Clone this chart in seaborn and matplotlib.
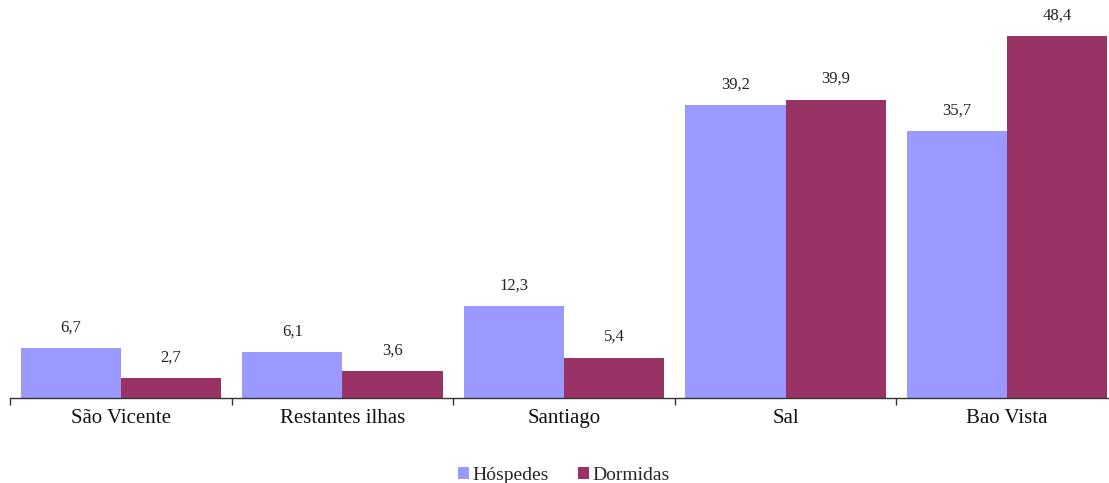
import matplotlib
matplotlib.use("Agg")
import matplotlib.pyplot as plt
from matplotlib.ticker import FixedLocator
import seaborn as sns
import pandas as pd

categories = ["São Vicente", "Restantes ilhas", "Santiago", "Sal", "Bao Vista"]
hospedes = [6.7, 6.1, 12.3, 39.2, 35.7]
dormidas = [2.7, 3.6, 5.4, 39.9, 48.4]
series = ["Hóspedes", "Dormidas"]
colors = ["#9999FF", "#993366"]

df = pd.DataFrame({
    "ilha": categories * 2,
    "serie": [series[0]] * len(categories) + [series[1]] * len(categories),
    "valor": hospedes + dormidas,
})

sns.set_style("white")
plt.rcParams["font.family"] = ["Liberation Serif", "DejaVu Serif"]

fig = plt.figure(figsize=(11.09, 4.83), dpi=100)
ax = fig.add_axes([10 / 1109, 85 / 483, 1108 / 1109, 398 / 483])

sns.barplot(data=df, x="ilha", y="valor", hue="serie", order=categories,
            hue_order=series, palette=colors, width=0.905, saturation=1,
            edgecolor="none", ax=ax, legend=True)

for cont in ax.containers:
    ax.bar_label(cont, labels=[f"{v:.1f}".replace(".", ",") for v in cont.datavalues],
                 padding=9, fontsize=12, color="#222222")

ax.set_xlim(-0.5, len(categories) - 0.5)
ax.set_ylim(0, 53.2)
ax.set_xlabel("")
ax.set_ylabel("")
ax.set_yticks([])
for side in ["top", "right", "left"]:
    ax.spines[side].set_visible(False)
ax.spines["bottom"].set_color("#333333")
ax.spines["bottom"].set_linewidth(1.0)

ax.tick_params(axis="x", which="major", bottom=False, length=0, labelsize=15,
               pad=8, labelcolor="#111111")
ax.xaxis.set_minor_locator(FixedLocator([i - 0.5 for i in range(len(categories) + 1)]))
ax.tick_params(axis="x", which="minor", bottom=True, length=5, width=1,
               color="#333333", direction="out")

leg = ax.legend(loc="center", bbox_to_anchor=(0.5, -0.195), ncol=2, frameon=False,
                fontsize=14, handlelength=0.55, handleheight=0.55, handletextpad=0.2,
                columnspacing=1.5)

fig.savefig("out.png", dpi=100)
